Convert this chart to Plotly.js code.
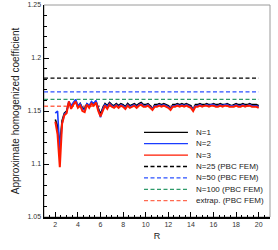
<!DOCTYPE html>
<html>
<head>
<meta charset="utf-8">
<script src="https://cdn.plot.ly/plotly-3.0.1.min.js"></script>
<style>html,body{margin:0;padding:0;background:#fff;}#chart{width:278px;height:250px;}</style>
</head>
<body>
<div id="chart"></div>
<script>
var R = [
  2.0,2.2,2.4,2.6,2.8,3.0,3.2,3.4,3.6,3.8,
  4.0,4.2,4.4,4.6,4.8,5.0,5.2,5.4,5.6,5.8,
  6.0,6.2,6.4,6.6,6.8,7.0,7.2,7.4,7.6,7.8,
  8.0,8.2,8.4,8.6,8.8,9.0,9.2,9.4,9.6,9.8,
  10.0,10.2,10.4,10.6,10.8,11.0,11.2,11.4,11.6,11.8,
  12.0,12.2,12.4,12.6,12.8,13.0,13.2,13.4,13.6,13.8,
  14.0,14.2,14.4,14.6,14.8,15.0,15.2,15.4,15.6,15.8,
  16.0,16.2,16.4,16.6,16.8,17.0,17.2,17.4,17.6,17.8,
  18.0,18.2,18.4,18.6,18.8,19.0,19.2,19.4,19.6,19.8,
  20.0
];
var N1 = [
  1.142,1.136,1.118,1.141,1.148,1.150,1.158,1.154,1.157,1.160,
  1.154,1.157,1.153,1.152,1.157,1.154,1.158,1.156,1.159,1.153,
  1.147,1.153,1.157,1.155,1.158,1.156,1.155,1.157,1.155,1.157,
  1.156,1.154,1.157,1.155,1.156,1.157,1.155,1.157,1.158,1.156,
  1.156,1.157,1.155,1.152,1.156,1.156,1.157,1.156,1.157,1.156,
  1.155,1.152,1.156,1.156,1.157,1.156,1.157,1.156,1.157,1.156,
  1.155,1.151,1.156,1.156,1.157,1.156,1.156,1.157,1.156,1.156,
  1.157,1.156,1.156,1.157,1.156,1.156,1.157,1.156,1.155,1.156,
  1.157,1.156,1.156,1.157,1.156,1.156,1.157,1.156,1.156,1.156,
  1.155
];
var N2 = [
  1.148,1.150,1.112,1.138,1.147,1.149,1.159,1.155,1.158,1.161,
  1.155,1.157,1.152,1.151,1.157,1.155,1.159,1.157,1.160,1.151,
  1.144,1.152,1.156,1.154,1.157,1.155,1.154,1.156,1.154,1.156,
  1.155,1.153,1.156,1.154,1.155,1.156,1.154,1.156,1.157,1.155,
  1.155,1.156,1.154,1.152,1.155,1.155,1.156,1.155,1.156,1.155,
  1.154,1.152,1.155,1.155,1.156,1.155,1.156,1.155,1.156,1.155,
  1.154,1.151,1.155,1.155,1.156,1.155,1.155,1.156,1.155,1.156,
  1.156,1.155,1.155,1.156,1.155,1.156,1.156,1.155,1.155,1.155,
  1.156,1.155,1.155,1.156,1.155,1.155,1.156,1.155,1.155,1.155,
  1.154
];
var N3 = [
  1.140,1.128,1.097,1.138,1.146,1.148,1.159,1.152,1.156,1.159,
  1.153,1.155,1.150,1.149,1.156,1.153,1.157,1.155,1.158,1.150,
  1.145,1.151,1.155,1.152,1.156,1.154,1.153,1.155,1.153,1.155,
  1.154,1.152,1.155,1.153,1.154,1.155,1.153,1.155,1.156,1.154,
  1.154,1.155,1.153,1.151,1.154,1.154,1.155,1.154,1.155,1.154,
  1.153,1.151,1.154,1.154,1.155,1.154,1.155,1.154,1.155,1.154,
  1.153,1.150,1.154,1.154,1.155,1.154,1.155,1.155,1.154,1.155,
  1.155,1.154,1.154,1.155,1.154,1.155,1.155,1.154,1.154,1.154,
  1.155,1.154,1.154,1.155,1.154,1.155,1.155,1.154,1.154,1.154,
  1.153
];
var refX = [1, 20];
var refNames = ["N=25 (PBC FEM)", "N=50 (PBC FEM)", "N=100 (PBC FEM)", "extrap. (PBC FEM)"];
var refValues = [1.181, 1.168, 1.161, 1.1545];
var curveNames = ["N=1", "N=2", "N=3"];

var curveColors = ["#000000", "#1a3cff", "#ff1a00"];
var curveWidths = [1.6, 1.6, 2];
var refColors = ["#000000", "#2b50ff", "#2e9a6a", "#ff6a50"];
var dashStyle = "4px,2.5px";

var curves = [N1, N2, N3];
var traces = [];
for (var i = 0; i < refValues.length; i++) {
  traces.push({x: refX, y: [refValues[i], refValues[i]], type: "scatter", mode: "lines",
    name: refNames[i], line: {color: refColors[i], width: 1.3, dash: dashStyle}, showlegend: false});
}
for (var j = 0; j < curves.length; j++) {
  traces.push({x: R, y: curves[j], type: "scatter", mode: "lines", name: curveNames[j],
    line: {color: curveColors[j], width: curveWidths[j]}, showlegend: false});
}

// custom compact legend
var legNames = curveNames.concat(refNames);
var legColors = curveColors.concat(refColors);
var legDash = ["solid", "solid", "solid", dashStyle, dashStyle, dashStyle, dashStyle];
var shapes = [{type: "rect", xref: "paper", yref: "paper", x0: 0, x1: 1, y0: 0, y1: 1,
  line: {color: "#9a9a9a", width: 1}, layer: "below"}];
var annotations = [];
var plotH = 212;
var rowTop = 132.3 - 5, rowGap = 11.4;
for (var k = 0; k < legNames.length; k++) {
  var yp = 1 - (rowTop + k * rowGap) / plotH;
  shapes.push({type: "line", xref: "paper", yref: "paper", x0: 0.4425, x1: 0.637, y0: yp, y1: yp,
    line: {color: legColors[k], width: 1.3, dash: legDash[k]}});
  annotations.push({xref: "paper", yref: "paper", x: 0.664, y: yp, xanchor: "left", yanchor: "middle",
    text: legNames[k], showarrow: false, font: {family: "Liberation Sans, Arial, sans-serif", size: 8, color: "#222"}});
}

var axisCommon = {
  showline: true, linecolor: "#000", linewidth: 1.5, ticks: "inside", ticklen: 5, tickwidth: 1,
  tickcolor: "#000", showgrid: false, zeroline: false, mirror: false,
  tickfont: {family: "Liberation Sans, Arial, sans-serif", size: 7, color: "#333"}
};
var layout = {
  width: 278, height: 250,
  margin: {l: 44, r: 8, t: 5, b: 33},
  paper_bgcolor: "#fff", plot_bgcolor: "#fff",
  showlegend: false,
  font: {family: "Liberation Sans, Arial, sans-serif", color: "#222"},
  xaxis: Object.assign({}, axisCommon, {
    range: [1, 21], tick0: 2, dtick: 2,
    minor: {dtick: 0.5, tick0: 0, ticks: "inside", ticklen: 2.5, tickwidth: 1, tickcolor: "#000"},
    title: {text: "R", font: {size: 9, color: "#222"}, standoff: 6}
  }),
  yaxis: Object.assign({}, axisCommon, {
    range: [1.05, 1.25], tick0: 1.05, dtick: 0.05,
    minor: {dtick: 0.01, tick0: 1.05, ticks: "inside", ticklen: 2.5, tickwidth: 1, tickcolor: "#000"},
    title: {text: "Approximate homogenized coefficient", font: {size: 10, color: "#222"}, standoff: 6}
  }),
  shapes: shapes,
  annotations: annotations
};
Plotly.newPlot("chart", traces, layout, {displayModeBar: false, staticPlot: true});
</script>
</body>
</html>
